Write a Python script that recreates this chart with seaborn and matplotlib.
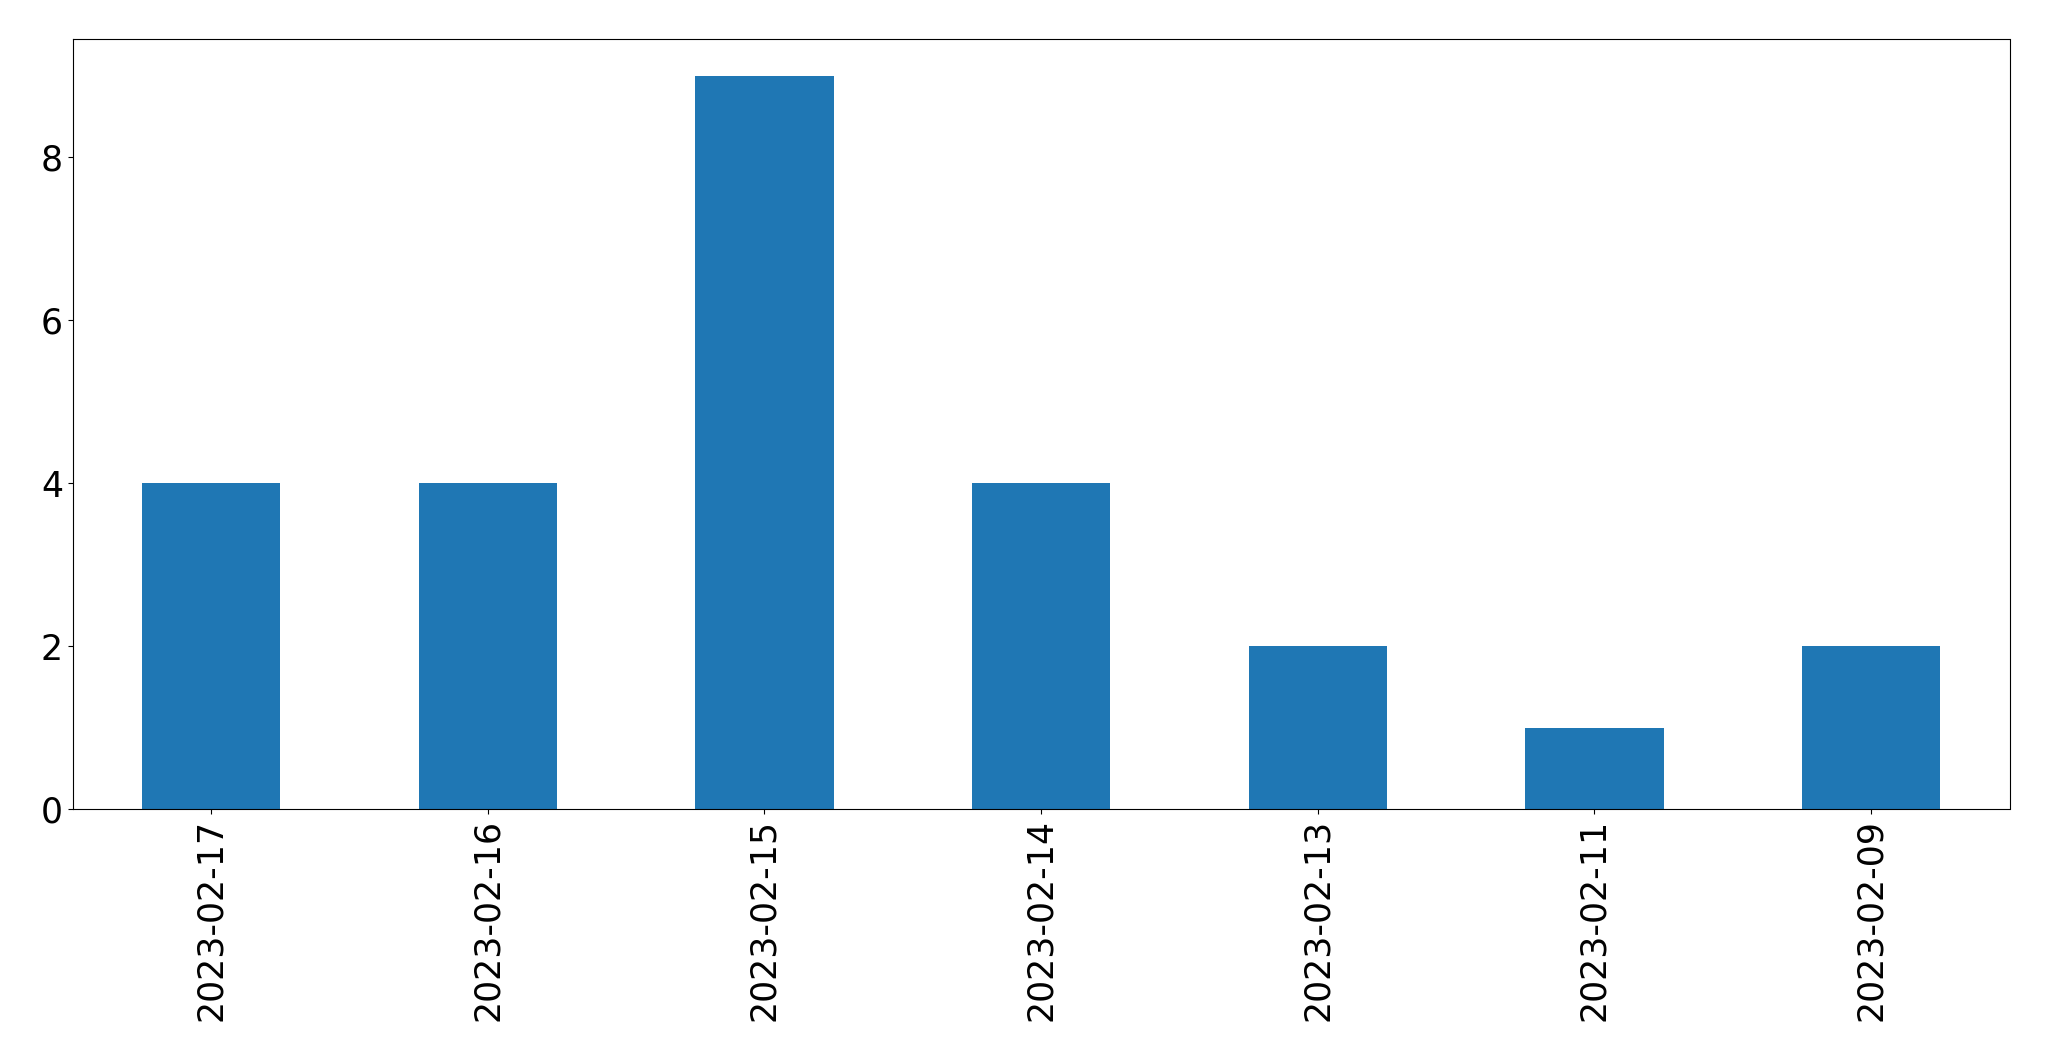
import matplotlib
matplotlib.use("Agg")
import matplotlib.pyplot as plt
import seaborn as sns
import pandas as pd

dates = ["2023-02-17", "2023-02-16", "2023-02-15", "2023-02-14",
         "2023-02-13", "2023-02-11", "2023-02-09"]
counts = [4, 4, 9, 4, 2, 1, 2]

df = pd.DataFrame({"date": dates, "count": counts})

fig = plt.figure(figsize=(20.49, 10.61), dpi=100)
ax = fig.add_axes([72.7 / 2049, 1 - 809 / 1061, (2009.5 - 72.7) / 2049, (809 - 39.3) / 1061])
sns.barplot(data=df, x="date", y="count", order=dates, color="#1f77b4",
            saturation=1, width=0.5, linewidth=0, ax=ax)
ax.set_xlim(-0.5, len(dates) - 0.5)
ax.set_ylim(0, max(counts) * 1.05)
ax.set_yticks([0, 2, 4, 6, 8])
ax.set_xlabel("")
ax.set_ylabel("")
ax.tick_params(axis="both", labelsize=25)
plt.setp(ax.get_xticklabels(), rotation=90)
for s in ax.spines.values():
    s.set_visible(True)
    s.set_color("black")
fig.savefig("out.png", dpi=100)
